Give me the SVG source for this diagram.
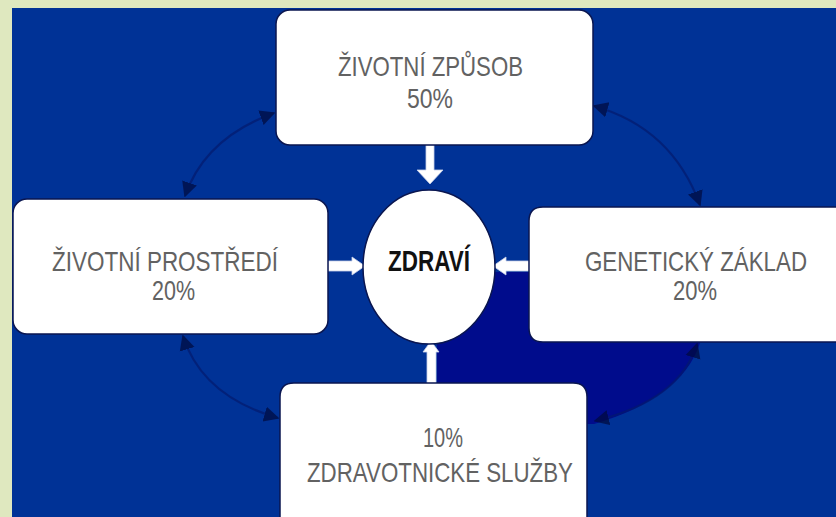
<svg xmlns="http://www.w3.org/2000/svg" width="836" height="517" viewBox="0 0 836 517">
  <style>
    .box { fill: #ffffff; stroke: #0a1650; stroke-width: 1.5; }
    .lbl { font-family: "Liberation Sans", Arial, sans-serif; font-size: 28px; fill: #626262; }
    .ctr { font-family: "Liberation Sans", Arial, sans-serif; font-size: 30px; font-weight: bold; fill: #111111; }
    .arc { fill: none; stroke: #041a6e; stroke-width: 2.2; opacity: 0.7; }
    .blk { fill: #ffffff; stroke: #c8d0e8; stroke-width: 0.8; }
  </style>
  <defs>
    <marker id="ah" viewBox="0 0 10 10" refX="9" refY="5" markerWidth="7" markerHeight="8" markerUnits="strokeWidth" orient="auto-start-reverse">
      <path d="M0,0 L10,5 L0,10 Z" fill="#000a3c"/>
    </marker>
  </defs>

  <rect x="0" y="0" width="836" height="517" fill="#dfe8bf"/>
  <rect x="12" y="8" width="824" height="509" fill="#003296"/>
  <path id="navy" d="M437,272 H700 V343 Q682,398 594,424 H437 Z" fill="#000c8c"/>

  <g id="connectors">
    <path class="arc" d="M185,196 Q205,138 274,113" marker-start="url(#ah)" marker-end="url(#ah)"/>
    <path class="arc" d="M594,106 Q672,128 700,205" marker-start="url(#ah)" marker-end="url(#ah)"/>
    <path class="arc" d="M183,336 Q202,396 278,418" marker-start="url(#ah)" marker-end="url(#ah)"/>
    <path class="arc" d="M697,344 Q680,400 595,421" marker-start="url(#ah)" marker-end="url(#ah)"/>
    <polygon class="blk" points="426,145 434,145 434,170 443,170 430,184 417,170 426,170"/>
    <polygon class="blk" points="328,261 352,261 352,257 365,266 352,275 352,271 328,271"/>
    <polygon class="blk" points="529,261 506,261 506,257 493,266 506,275 506,271 529,271"/>
    <polygon class="blk" points="427,384 427,352 423,352 431,341 439,352 436,352 436,384"/>
  </g>

  <g id="zivotni-zpusob">
    <rect class="box" x="276" y="10" width="317" height="135" rx="14"/>
    <text class="lbl" x="338" y="76" textLength="185" lengthAdjust="spacingAndGlyphs">ŽIVOTNÍ ZPŮSOB</text>
    <text class="lbl" x="407" y="108" textLength="46" lengthAdjust="spacingAndGlyphs">50%</text>
  </g>

  <g id="zivotni-prostredi">
    <rect class="box" x="13" y="199" width="315" height="135" rx="14"/>
    <text class="lbl" x="52" y="271" textLength="226" lengthAdjust="spacingAndGlyphs">ŽIVOTNÍ PROSTŘEDÍ</text>
    <text class="lbl" x="152" y="300" textLength="43" lengthAdjust="spacingAndGlyphs">20%</text>
  </g>

  <g id="geneticky-zaklad">
    <path class="box" d="M836,207 H543 Q529,207 529,221 V328 Q529,342 543,342 H836"/>
    <text class="lbl" x="585" y="271" textLength="222" lengthAdjust="spacingAndGlyphs">GENETICKÝ ZÁKLAD</text>
    <text class="lbl" x="673" y="300" textLength="44" lengthAdjust="spacingAndGlyphs">20%</text>
  </g>

  <g id="zdravotnicke-sluzby">
    <path class="box" d="M280,517 V397 Q280,383 294,383 H573 Q587,383 587,397 V517"/>
    <text class="lbl" x="423" y="447" textLength="40" lengthAdjust="spacingAndGlyphs">10%</text>
    <text class="lbl" x="307" y="482" textLength="266" lengthAdjust="spacingAndGlyphs">ZDRAVOTNICKÉ SLUŽBY</text>
  </g>

  <g id="zdravi">
    <ellipse class="box" cx="429" cy="267" rx="66" ry="77"/>
    <text class="ctr" x="388" y="271" textLength="82" lengthAdjust="spacingAndGlyphs">ZDRAVÍ</text>
  </g>
</svg>
